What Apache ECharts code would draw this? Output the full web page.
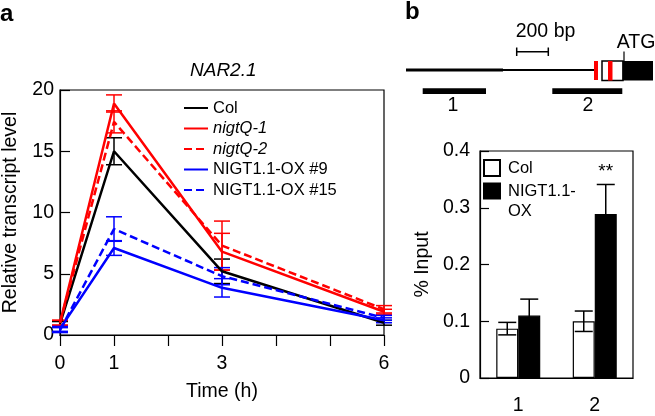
<!DOCTYPE html>
<html>
<head>
<meta charset="utf-8">
<script src="https://cdn.jsdelivr.net/npm/echarts@6/dist/echarts.min.js"></script>
<style>
  html, body { margin: 0; padding: 0; background: #fff; }
  #chart { width: 655px; height: 416px; }
</style>
</head>
<body>
<div id="chart"></div>
<script>
// panel a: NAR2.1 time course
const timePoints = [0, 1, 3, 6]
const timeLabels = [0, 1, 3, 6]
const colLevel = [0.9, 15.0, 5.2, 1.0]
const colErr = [0.2, 1.1, 1.0, 0.2]
const nigtQ1Level = [1.0, 18.9, 6.8, 1.9]
const nigtQ1Err = [0.2, 0.7, 1.5, 0.2]
const nigtQ2Level = [1.0, 17.4, 7.3, 2.1]
const nigtQ2Err = [0.2, 0.9, 2.0, 0.3]
const ox9Level = [0.5, 7.1, 3.85, 1.2]
const ox9Err = [0.2, 0.6, 0.75, 0.2]
const ox15Level = [0.4, 8.65, 4.8, 1.4]
const ox15Err = [0.2, 1.0, 0.7, 0.2]

// panel b: ChIP
const regions = ['1', '2']
const colInput = [0.087, 0.100]
const colInputErr = [0.011, 0.018]
const oxInput = [0.110, 0.289]
const oxInputErr = [0.029, 0.052]
const significance = ['', '**']

const FONT = '"Liberation Sans", Arial, Helvetica, sans-serif'
const RED = '#ff0000'
const BLUE = '#0000ff'
const BAR_W = 22
const FS = 19.5

const chart = echarts.init(document.getElementById('chart'))

const lineDefs = [
  { name: 'Col', values: colLevel, err: colErr, color: '#000', dash: 'solid' },
  { name: 'nigtQ-1', values: nigtQ1Level, err: nigtQ1Err, color: RED, dash: 'solid' },
  { name: 'nigtQ-2', values: nigtQ2Level, err: nigtQ2Err, color: RED, dash: [8, 4] },
  { name: 'NIGT1.1-OX #9', values: ox9Level, err: ox9Err, color: BLUE, dash: 'solid' },
  { name: 'NIGT1.1-OX #15', values: ox15Level, err: ox15Err, color: BLUE, dash: [8, 4] }
]

function pairs(values) {
  return timePoints.map((t, i) => [t, values[i]])
}

const lineSeries = lineDefs.map(d => ({
  name: d.name,
  type: 'line',
  xAxisIndex: 0,
  yAxisIndex: 0,
  data: pairs(d.values),
  symbol: 'none',
  showSymbol: false,
  z: 4,
  color: d.color,
  lineStyle: { color: d.color, width: 2.5, type: d.dash }
}))

// vertical error bar with caps
function errorItem(api, x, y, e, color, dx, half) {
  const top = api.coord([x, y + e])
  const bot = api.coord([x, y - e])
  const cx = top[0] + dx
  const style = { stroke: color, lineWidth: 1.5 }
  return [
    { type: 'line', shape: { x1: cx, y1: top[1], x2: cx, y2: bot[1] }, style },
    { type: 'line', shape: { x1: cx - half, y1: top[1], x2: cx + half, y2: top[1] }, style },
    { type: 'line', shape: { x1: cx - half, y1: bot[1], x2: cx + half, y2: bot[1] }, style }
  ]
}

const errSeries = lineDefs.map(d => ({
  name: d.name,
  type: 'custom',
  xAxisIndex: 0,
  yAxisIndex: 0,
  z: 3,
  clip: false,
  data: timePoints.map((t, i) => [t, d.values[i], d.err[i]]),
  renderItem(params, api) {
    return {
      type: 'group',
      children: errorItem(api, api.value(0), api.value(1), api.value(2), d.color, 0, 8)
    }
  }
}))

function barErrSeries(values, errs, side, marks) {
  return {
    type: 'custom',
    xAxisIndex: 1,
    yAxisIndex: 1,
    z: 5,
    clip: false,
    data: values.map((v, i) => [i, v, errs[i]]),
    renderItem(params, api) {
      const i = api.value(0)
      const children = errorItem(api, i, api.value(1), api.value(2), '#000', side * BAR_W / 2, 9)
      if (marks && marks[i]) {
        const top = api.coord([i, api.value(1) + api.value(2)])
        children.push({
          type: 'text',
          style: {
            text: marks[i], x: top[0] + side * BAR_W / 2, y: top[1] - 3,
            align: 'center', verticalAlign: 'bottom',
            font: '19px ' + FONT, fill: '#000'
          }
        })
      }
      return { type: 'group', children }
    }
  }
}

const axisText = { color: '#000', fontSize: FS, fontFamily: FONT }
const blackLine = { lineStyle: { color: '#000', width: 1.2 } }
const diagramFont = FS + 'px ' + FONT

const diagram = [
  { type: 'line', shape: { x1: 406, y1: 70, x2: 503, y2: 70 }, style: { stroke: '#000', lineWidth: 3 } },
  { type: 'line', shape: { x1: 503, y1: 70, x2: 595, y2: 70 }, style: { stroke: '#000', lineWidth: 2 } },
  { type: 'rect', shape: { x: 594, y: 61, width: 4, height: 19 }, style: { fill: RED } },
  { type: 'rect', shape: { x: 602, y: 61, width: 21, height: 19.5 }, style: { fill: '#fff', stroke: '#000', lineWidth: 1.5 } },
  { type: 'rect', shape: { x: 608, y: 61, width: 4.5, height: 19.5 }, style: { fill: RED } },
  { type: 'rect', shape: { x: 622.5, y: 61, width: 30.5, height: 19.5 }, style: { fill: '#000' } },
  { type: 'line', shape: { x1: 624, y1: 51.5, x2: 624, y2: 61 }, style: { stroke: '#000', lineWidth: 1.2 } },
  { type: 'text', style: { text: 'ATG', x: 636, y: 43, align: 'center', verticalAlign: 'middle', font: diagramFont, fill: '#000' } },
  { type: 'line', shape: { x1: 516.7, y1: 51.7, x2: 548.3, y2: 51.7 }, style: { stroke: '#000', lineWidth: 1.5 } },
  { type: 'line', shape: { x1: 516.7, y1: 47.5, x2: 516.7, y2: 56 }, style: { stroke: '#000', lineWidth: 1.5 } },
  { type: 'line', shape: { x1: 548.3, y1: 47.5, x2: 548.3, y2: 56 }, style: { stroke: '#000', lineWidth: 1.5 } },
  { type: 'text', style: { text: '200 bp', x: 545.5, y: 32, align: 'center', verticalAlign: 'middle', font: diagramFont, fill: '#000' } },
  { type: 'rect', shape: { x: 422.7, y: 88.3, width: 63.3, height: 5.7 }, style: { fill: '#000' } },
  { type: 'rect', shape: { x: 552.3, y: 88.3, width: 70, height: 5.7 }, style: { fill: '#000' } },
  { type: 'text', style: { text: '1', x: 453, y: 106, align: 'center', verticalAlign: 'middle', font: diagramFont, fill: '#000' } },
  { type: 'text', style: { text: '2', x: 588, y: 106, align: 'center', verticalAlign: 'middle', font: diagramFont, fill: '#000' } }
]

chart.setOption({
  animation: false,
  backgroundColor: '#fff',
  textStyle: { fontFamily: FONT },
  title: [
    { text: 'a', left: 0, top: 2, padding: 0, textStyle: { fontSize: 24, fontWeight: 'bold', color: '#000', fontFamily: FONT } },
    { text: 'b', left: 405, top: 0, padding: 0, textStyle: { fontSize: 24, fontWeight: 'bold', color: '#000', fontFamily: FONT } },
    { text: 'NAR2.1', left: 190, top: 61, padding: 0, textStyle: { fontSize: 19, fontStyle: 'italic', fontWeight: 'normal', color: '#000', fontFamily: FONT } }
  ],
  grid: [
    { left: 59, top: 90, width: 325, height: 245, show: true, borderColor: '#000', borderWidth: 1.2, backgroundColor: 'transparent' },
    { left: 480, top: 151, width: 153, height: 234, show: true, borderColor: '#000', borderWidth: 1.2, backgroundColor: 'transparent' }
  ],
  legend: [
    {
      orient: 'vertical', left: 183, top: 99, padding: 0,
      itemWidth: 24, itemHeight: 14, itemGap: 2.5,
      itemStyle: { opacity: 0 },
      textStyle: { fontSize: 16.5, lineHeight: 18, color: '#000', fontFamily: FONT },
      data: lineDefs.map(d => ({
        name: d.name,
        textStyle: d.name.startsWith('nigtQ') ? { fontStyle: 'italic' } : {}
      }))
    },
    {
      orient: 'vertical', left: 483, top: 159, padding: 0,
      itemWidth: 16, itemHeight: 16, icon: 'rect',
      formatter: () => 'Col',
      textStyle: { fontSize: 16.5, lineHeight: 16, color: '#000', fontFamily: FONT, padding: [0, 0, 0, 3] },
      data: ['Col (ChIP)']
    },
    {
      orient: 'vertical', left: 483, top: 161, padding: 0,
      itemWidth: 16, itemHeight: 15, icon: 'rect',
      formatter: () => '\nNIGT1.1-\nOX',
      textStyle: { fontSize: 16.5, lineHeight: 20, color: '#000', fontFamily: FONT, padding: [0, 0, 0, 3] },
      data: ['NIGT1.1-OX (ChIP)']
    }
  ],
  xAxis: [
    {
      gridIndex: 0, type: 'value', min: 0, max: 6, interval: 1,
      name: 'Time (h)', nameLocation: 'middle', nameGap: 47, nameTextStyle: axisText,
      axisLine: blackLine,
      axisTick: { length: 11, lineStyle: { color: '#000', width: 1.2 } },
      axisLabel: { ...axisText, margin: 19, formatter: v => (timeLabels.includes(v) ? String(v) : '') },
      splitLine: { show: false }
    },
    {
      gridIndex: 1, type: 'category', data: regions, boundaryGap: true,
      axisLine: blackLine,
      axisTick: { length: 8, alignWithLabel: false, lineStyle: { color: '#000', width: 1.2 } },
      axisLabel: { ...axisText, margin: 18 },
      splitLine: { show: false }
    }
  ],
  yAxis: [
    {
      gridIndex: 0, type: 'value', min: 0, max: 20, interval: 5,
      name: 'Relative transcript level', nameLocation: 'middle', nameGap: 39, nameTextStyle: axisText,
      axisLine: { show: true, ...blackLine },
      axisTick: { show: true, inside: true, length: 10, lineStyle: { color: '#000', width: 1.2 } },
      axisLabel: { ...axisText, margin: 6 },
      splitLine: { show: false }
    },
    {
      gridIndex: 1, type: 'value', min: 0, max: 0.4, interval: 0.1,
      name: '% Input', nameLocation: 'middle', nameGap: 47, nameTextStyle: axisText,
      axisLine: { show: true, ...blackLine },
      axisTick: { show: true, inside: true, length: 9, lineStyle: { color: '#000', width: 1.2 } },
      axisLabel: { ...axisText, margin: 10 },
      splitLine: { show: false }
    }
  ],
  series: [
    ...lineSeries,
    ...errSeries,
    {
      name: 'Col (ChIP)', type: 'bar', xAxisIndex: 1, yAxisIndex: 1,
      data: colInput, barWidth: BAR_W, barGap: '0%', z: 2,
      itemStyle: { color: '#fff', borderColor: '#000', borderWidth: 1.2 }
    },
    {
      name: 'NIGT1.1-OX (ChIP)', type: 'bar', xAxisIndex: 1, yAxisIndex: 1,
      data: oxInput, barWidth: BAR_W, barGap: '0%', z: 2,
      itemStyle: { color: '#000', borderColor: '#000', borderWidth: 1.2 }
    },
    barErrSeries(colInput, colInputErr, -1, null),
    barErrSeries(oxInput, oxInputErr, 1, significance)
  ],
  graphic: diagram
})
</script>
</body>
</html>
